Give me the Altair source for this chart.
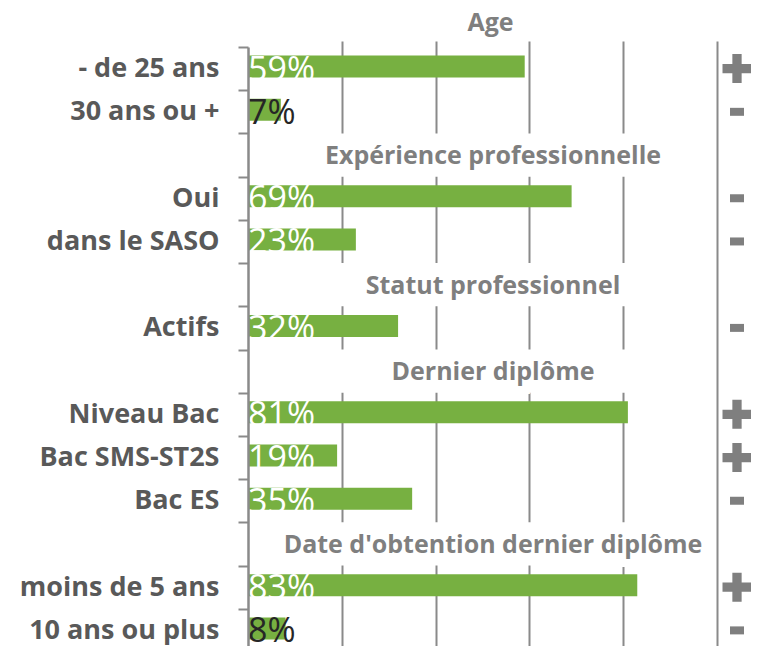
import altair as alt
import pandas as pd

# ---- data ----
sections = ["Age", "Expérience professionnelle", "Statut professionnel",
            "Dernier diplôme", "Date d'obtention dernier diplôme"]
categories = ["- de 25 ans", "30 ans ou +", "Oui", "dans le SASO", "Actifs",
              "Niveau Bac", "Bac SMS-ST2S", "Bac ES", "moins de 5 ans", "10 ans ou plus"]
category_section = [0, 0, 1, 1, 2, 3, 3, 3, 4, 4]
values = [59, 7, 69, 23, 32, 81, 19, 35, 83, 8]
signs = ["+", "-", "-", "-", "-", "+", "+", "-", "+", "-"]
grid_values = [20, 40, 60, 80, 100]

rows = []
for si, sec in enumerate(sections):
    if si > 0:
        rows.append({"key": f"h{si}", "kind": "header", "text": sec, "value": 0, "sign": ""})
    for c, cs, v, sg in zip(categories, category_section, values, signs):
        if cs == si:
            rows.append({"key": c, "kind": "cat", "text": f"{v}%", "value": v, "sign": sg})
df = pd.DataFrame(rows)
order = list(df["key"])
header_keys = [f"h{i}" for i in range(1, len(sections))]
blank_test = " || ".join(f"datum.value == '{k}'" for k in header_keys)

GREEN = "#77B041"
GRAY = "#7F7F7F"
LINE = "#8A8A8A"
FONT = "Open Sans"

y_enc = alt.Y(
    "key:N", sort=order,
    scale=alt.Scale(paddingInner=0, paddingOuter=0, range=[0, 605]),
    axis=alt.Axis(
        title=None, tickBand="extent",
        labelExpr=f"({blank_test}) ? '' : datum.label",
        labelFont=FONT, labelFontSize=27, labelFontWeight="bold", labelColor="#595959",
        labelPadding=19, tickSize=10, tickColor=LINE, tickWidth=2,
        domainColor=LINE, domainWidth=2.5, labelLimit=400, zindex=1,
    ),
)
x_enc = alt.X("value:Q", scale=alt.Scale(domain=[0, 100], nice=False),
              axis=alt.Axis(values=grid_values, grid=True, labels=False, ticks=False,
                            domain=False, title=None, gridColor=LINE, gridWidth=2, zindex=0))

base = alt.Chart(df).encode(y=y_enc)

bars = base.transform_filter("datum.kind == 'cat'").mark_bar(
    size=22, color=GREEN, yOffset=-2).encode(x=x_enc)

header_box = base.transform_filter("datum.kind == 'header'").mark_rect(color="white").encode(
    x=alt.value(3), x2=alt.value(460))

value_text = base.transform_filter("datum.kind == 'cat'").mark_text(
    align="left", baseline="alphabetic", dx=0, dy=12, font=FONT, fontSize=34
).encode(
    x=alt.value(0),
    text="text:N",
    color=alt.condition("datum.value < 10", alt.value("#262626"), alt.value("white")),
)

header_halo = base.transform_filter("datum.kind == 'header'").mark_text(
    align="center", baseline="middle", dy=1, font=FONT, fontSize=25, fontWeight="bold",
    color="white", stroke="white", strokeWidth=16
).encode(x=alt.value(245), text="text:N")

header_text = base.transform_filter("datum.kind == 'header'").mark_text(
    align="center", baseline="middle", dy=1, font=FONT, fontSize=25, fontWeight="bold",
    color=GRAY
).encode(x=alt.value(245), text="text:N")

PLUS = ("M-1,-0.32L-0.32,-0.32L-0.32,-1L0.32,-1L0.32,-0.32L1,-0.32L1,0.32"
        "L0.32,0.32L0.32,1L-0.32,1L-0.32,0.32L-1,0.32Z")
MINUS = "M-1,-0.57L1,-0.57L1,0.57L-1,0.57Z"

plus_marks = base.transform_filter("datum.sign == '+'").mark_point(
    shape=PLUS, size=841, filled=True, color=GRAY, opacity=1
).encode(x=alt.value(489))

minus_marks = base.transform_filter("datum.sign == '-'").mark_point(
    shape=MINUS, size=196, filled=True, color=GRAY, opacity=1
).encode(x=alt.value(489))

chart = alt.layer(
    bars, header_box, value_text, header_halo, header_text, plus_marks, minus_marks
).properties(
    width=469, height=599,
    autosize=alt.AutoSizeParams(type="none"),
    padding={"left": 240, "top": 39, "right": 34, "bottom": 0},
    title=alt.TitleParams("Age", font=FONT, fontSize=25, fontWeight="bold", color=GRAY,
                          anchor="middle", frame="group", dx=8, dy=17, offset=14),
).configure_view(stroke=None)

chart.save("out.html", embed_options={"renderer": "svg", "actions": False})
